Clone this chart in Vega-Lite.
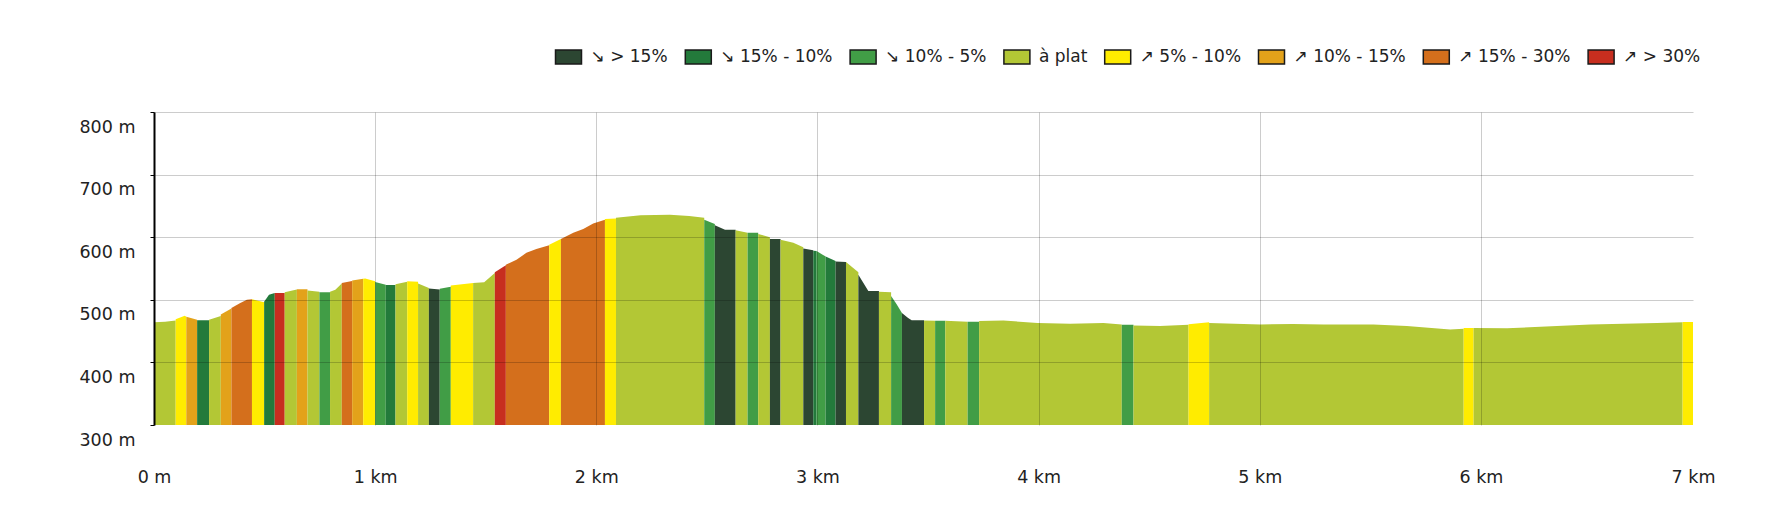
{
  "$schema": "https://vega.github.io/schema/vega-lite/v6.json",
  "width": 1539,
  "height": 313,
  "autosize": "none",
  "padding": {"left": 154, "top": 112, "right": 92, "bottom": 94},
  "background": "white",
  "config": {"view": {"stroke": null}, "font": "DejaVu Sans"},
  "data": {"values": [
    {"s":1,"d":0,"e":464,"c":"à plat"},{"s":1,"d":50,"e":465,"c":"à plat"},{"s":1,"d":98,"e":467,"c":"à plat"},
    {"s":2,"d":98,"e":469,"c":"↗ 5% - 10%"},{"s":2,"d":139,"e":474.5,"c":"↗ 5% - 10%"},{"s":2,"d":146,"e":473,"c":"↗ 5% - 10%"},
    {"s":3,"d":146,"e":473,"c":"↗ 10% - 15%"},{"s":3,"d":195,"e":468,"c":"↗ 10% - 15%"},
    {"s":4,"d":195,"e":467.5,"c":"↘ 15% - 10%"},{"s":4,"d":249,"e":467.5,"c":"↘ 15% - 10%"},
    {"s":5,"d":249,"e":468,"c":"à plat"},{"s":5,"d":302,"e":474,"c":"à plat"},
    {"s":6,"d":302,"e":476.5,"c":"↗ 10% - 15%"},{"s":6,"d":350,"e":486,"c":"↗ 10% - 15%"},
    {"s":7,"d":350,"e":487,"c":"↗ 15% - 30%"},{"s":7,"d":390,"e":495,"c":"↗ 15% - 30%"},{"s":7,"d":420,"e":500,"c":"↗ 15% - 30%"},{"s":7,"d":443,"e":501,"c":"↗ 15% - 30%"},
    {"s":8,"d":443,"e":501,"c":"↗ 5% - 10%"},{"s":8,"d":498,"e":496,"c":"↗ 5% - 10%"},
    {"s":9,"d":498,"e":497,"c":"↘ 15% - 10%"},{"s":9,"d":520,"e":508,"c":"↘ 15% - 10%"},{"s":9,"d":546,"e":511,"c":"↘ 15% - 10%"},
    {"s":10,"d":546,"e":511,"c":"↗ > 30%"},{"s":10,"d":591,"e":511,"c":"↗ > 30%"},
    {"s":11,"d":591,"e":512,"c":"à plat"},{"s":11,"d":646,"e":516.5,"c":"à plat"},
    {"s":12,"d":646,"e":517,"c":"↗ 10% - 15%"},{"s":12,"d":694,"e":517,"c":"↗ 10% - 15%"},
    {"s":13,"d":694,"e":515,"c":"à plat"},{"s":13,"d":748,"e":513,"c":"à plat"},
    {"s":14,"d":748,"e":512,"c":"↘ 10% - 5%"},{"s":14,"d":796,"e":512,"c":"↘ 10% - 5%"},
    {"s":15,"d":796,"e":513,"c":"à plat"},{"s":15,"d":820,"e":516,"c":"à plat"},{"s":15,"d":849,"e":526,"c":"à plat"},
    {"s":16,"d":849,"e":527,"c":"↗ 15% - 30%"},{"s":16,"d":896,"e":530,"c":"↗ 15% - 30%"},
    {"s":17,"d":896,"e":531,"c":"↗ 10% - 15%"},{"s":17,"d":946,"e":533.5,"c":"↗ 10% - 15%"},
    {"s":18,"d":946,"e":533.5,"c":"↗ 5% - 10%"},{"s":18,"d":955,"e":534,"c":"↗ 5% - 10%"},{"s":18,"d":1000,"e":529.5,"c":"↗ 5% - 10%"},
    {"s":19,"d":1000,"e":528.5,"c":"↘ 10% - 5%"},{"s":19,"d":1048,"e":524,"c":"↘ 10% - 5%"},
    {"s":20,"d":1048,"e":523.5,"c":"↘ 15% - 10%"},{"s":20,"d":1092,"e":523.5,"c":"↘ 15% - 10%"},
    {"s":21,"d":1092,"e":525,"c":"à plat"},{"s":21,"d":1145,"e":529,"c":"à plat"},
    {"s":22,"d":1145,"e":529.5,"c":"↗ 5% - 10%"},{"s":22,"d":1194,"e":529,"c":"↗ 5% - 10%"},
    {"s":23,"d":1194,"e":526,"c":"à plat"},{"s":23,"d":1243,"e":519,"c":"à plat"},
    {"s":24,"d":1243,"e":518,"c":"↘ > 15%"},{"s":24,"d":1292,"e":516.5,"c":"↘ > 15%"},
    {"s":25,"d":1292,"e":517.5,"c":"↘ 10% - 5%"},{"s":25,"d":1342,"e":521,"c":"↘ 10% - 5%"},
    {"s":26,"d":1342,"e":523,"c":"↗ 5% - 10%"},{"s":26,"d":1443,"e":527,"c":"↗ 5% - 10%"},
    {"s":27,"d":1443,"e":527,"c":"à plat"},{"s":27,"d":1493,"e":528,"c":"à plat"},{"s":27,"d":1541,"e":543,"c":"à plat"},
    {"s":28,"d":1541,"e":544,"c":"↗ > 30%"},{"s":28,"d":1591,"e":555,"c":"↗ > 30%"},
    {"s":29,"d":1591,"e":556,"c":"↗ 15% - 30%"},{"s":29,"d":1639,"e":564,"c":"↗ 15% - 30%"},{"s":29,"d":1684,"e":575,"c":"↗ 15% - 30%"},{"s":29,"d":1729,"e":581,"c":"↗ 15% - 30%"},{"s":29,"d":1787,"e":587,"c":"↗ 15% - 30%"},
    {"s":30,"d":1787,"e":588,"c":"↗ 5% - 10%"},{"s":30,"d":1840,"e":597,"c":"↗ 5% - 10%"},
    {"s":31,"d":1840,"e":597,"c":"↗ 15% - 30%"},{"s":31,"d":1896,"e":607,"c":"↗ 15% - 30%"},{"s":31,"d":1941,"e":613,"c":"↗ 15% - 30%"},{"s":31,"d":1986,"e":622,"c":"↗ 15% - 30%"},{"s":31,"d":2039,"e":628,"c":"↗ 15% - 30%"},
    {"s":32,"d":2039,"e":629,"c":"↗ 5% - 10%"},{"s":32,"d":2089,"e":630,"c":"↗ 5% - 10%"},
    {"s":33,"d":2089,"e":631,"c":"à plat"},{"s":33,"d":2200,"e":635,"c":"à plat"},{"s":33,"d":2333,"e":636,"c":"à plat"},{"s":33,"d":2420,"e":634,"c":"à plat"},{"s":33,"d":2488,"e":631,"c":"à plat"},
    {"s":34,"d":2488,"e":628,"c":"↘ 10% - 5%"},{"s":34,"d":2536,"e":621,"c":"↘ 10% - 5%"},
    {"s":35,"d":2536,"e":619,"c":"↘ > 15%"},{"s":35,"d":2582,"e":612,"c":"↘ > 15%"},{"s":35,"d":2630,"e":612,"c":"↘ > 15%"},
    {"s":36,"d":2630,"e":611,"c":"à plat"},{"s":36,"d":2684,"e":607,"c":"à plat"},
    {"s":37,"d":2684,"e":607,"c":"↘ 10% - 5%"},{"s":37,"d":2732,"e":607,"c":"↘ 10% - 5%"},
    {"s":38,"d":2732,"e":605,"c":"à plat"},{"s":38,"d":2785,"e":600,"c":"à plat"},
    {"s":39,"d":2785,"e":597,"c":"↘ > 15%"},{"s":39,"d":2833,"e":597,"c":"↘ > 15%"},
    {"s":40,"d":2833,"e":596,"c":"à plat"},{"s":40,"d":2891,"e":591,"c":"à plat"},{"s":40,"d":2936,"e":584,"c":"à plat"},
    {"s":41,"d":2936,"e":582,"c":"↘ > 15%"},{"s":41,"d":2981,"e":579,"c":"↘ > 15%"},
    {"s":42,"d":2981,"e":578.5,"c":"↘ 15% - 10%"},{"s":42,"d":2996,"e":578,"c":"↘ 15% - 10%"},
    {"s":43,"d":2996,"e":578,"c":"↘ 10% - 5%"},{"s":43,"d":3037,"e":569,"c":"↘ 10% - 5%"},
    {"s":44,"d":3037,"e":569,"c":"↘ 15% - 10%"},{"s":44,"d":3082,"e":562,"c":"↘ 15% - 10%"},
    {"s":45,"d":3082,"e":561,"c":"↘ > 15%"},{"s":45,"d":3129,"e":560.5,"c":"↘ > 15%"},
    {"s":46,"d":3129,"e":560.5,"c":"à plat"},{"s":46,"d":3185,"e":544,"c":"à plat"},
    {"s":47,"d":3185,"e":540,"c":"↘ > 15%"},{"s":47,"d":3230,"e":514,"c":"↘ > 15%"},{"s":47,"d":3278,"e":514,"c":"↘ > 15%"},
    {"s":48,"d":3278,"e":513,"c":"à plat"},{"s":48,"d":3333,"e":512,"c":"à plat"},
    {"s":49,"d":3333,"e":506,"c":"↘ 10% - 5%"},{"s":49,"d":3358,"e":493,"c":"↘ 10% - 5%"},{"s":49,"d":3382,"e":479,"c":"↘ 10% - 5%"},
    {"s":50,"d":3382,"e":479,"c":"↘ > 15%"},{"s":50,"d":3410,"e":471,"c":"↘ > 15%"},{"s":50,"d":3426,"e":467.5,"c":"↘ > 15%"},{"s":50,"d":3482,"e":467.5,"c":"↘ > 15%"},
    {"s":51,"d":3482,"e":467,"c":"à plat"},{"s":51,"d":3532,"e":466.5,"c":"à plat"},
    {"s":52,"d":3532,"e":466.5,"c":"↘ 10% - 5%"},{"s":52,"d":3578,"e":466.5,"c":"↘ 10% - 5%"},
    {"s":53,"d":3578,"e":466.5,"c":"à plat"},{"s":53,"d":3679,"e":465,"c":"à plat"},
    {"s":54,"d":3679,"e":465,"c":"↘ 10% - 5%"},{"s":54,"d":3731,"e":465,"c":"↘ 10% - 5%"},
    {"s":55,"d":3731,"e":466,"c":"à plat"},{"s":55,"d":3841,"e":467,"c":"à plat"},{"s":55,"d":3995,"e":463,"c":"à plat"},{"s":55,"d":4142,"e":461.7,"c":"à plat"},{"s":55,"d":4293,"e":463,"c":"à plat"},{"s":55,"d":4376,"e":460.6,"c":"à plat"},
    {"s":56,"d":4376,"e":460,"c":"↘ 10% - 5%"},{"s":56,"d":4429,"e":460,"c":"↘ 10% - 5%"},
    {"s":57,"d":4429,"e":459,"c":"à plat"},{"s":57,"d":4549,"e":458,"c":"à plat"},{"s":57,"d":4678,"e":460,"c":"à plat"},
    {"s":58,"d":4678,"e":461,"c":"↗ 5% - 10%"},{"s":58,"d":4771,"e":464,"c":"↗ 5% - 10%"},
    {"s":59,"d":4771,"e":463,"c":"à plat"},{"s":59,"d":5003,"e":460.7,"c":"à plat"},{"s":59,"d":5150,"e":461.5,"c":"à plat"},{"s":59,"d":5288,"e":460.7,"c":"à plat"},{"s":59,"d":5514,"e":460.7,"c":"à plat"},{"s":59,"d":5665,"e":458,"c":"à plat"},{"s":59,"d":5861,"e":452.7,"c":"à plat"},{"s":59,"d":5922,"e":453.7,"c":"à plat"},
    {"s":60,"d":5922,"e":455,"c":"↗ 5% - 10%"},{"s":60,"d":5967,"e":455,"c":"↗ 5% - 10%"},
    {"s":61,"d":5967,"e":455,"c":"à plat"},{"s":61,"d":6118,"e":454.5,"c":"à plat"},{"s":61,"d":6344,"e":458,"c":"à plat"},{"s":61,"d":6495,"e":460.7,"c":"à plat"},{"s":61,"d":6796,"e":463,"c":"à plat"},{"s":61,"d":6912,"e":464,"c":"à plat"},
    {"s":62,"d":6912,"e":464.5,"c":"↗ 5% - 10%"},{"s":62,"d":6959,"e":464.5,"c":"↗ 5% - 10%"}
  ]},
  "mark": {"type": "area", "interpolate": "linear"},
  "encoding": {
    "x": {
      "field": "d", "type": "quantitative",
      "scale": {"domain": [0, 6959], "nice": false, "zero": false},
      "axis": {
        "title": null,
        "values": [0, 1000, 2000, 3000, 4000, 5000, 6000, 6959],
        "labelExpr": "datum.value == 0 ? '0 m' : round(datum.value / 1000) + ' km'",
        "labelFlush": false, "labelOverlap": false,
        "domain": false, "ticks": false, "tickSize": 0,
        "labelPadding": 52, "labelBaseline": "middle",
        "labelFont": "DejaVu Sans", "labelFontSize": 17.5, "labelColor": "#222",
        "grid": true, "gridColor": "#000",
        "gridOpacity": {"condition": {"test": "datum.value > 6500", "value": 0}, "value": 0.2},
        "zindex": 1
      }
    },
    "y": {
      "field": "e", "type": "quantitative",
      "scale": {"domain": [300, 800], "nice": false, "zero": false},
      "axis": {
        "title": null,
        "values": [300, 400, 500, 600, 700, 800],
        "labelExpr": "datum.value + ' m'",
        "domain": true, "domainColor": "#000", "domainWidth": 2,
        "ticks": true, "tickColor": "#000", "tickSize": 4,
        "labelPadding": 15, "labelOffset": 15, "labelBaseline": "middle",
        "labelFont": "DejaVu Sans", "labelFontSize": 17.5, "labelColor": "#222",
        "grid": true, "gridColor": "#000",
        "gridOpacity": {"condition": {"test": "datum.value < 350", "value": 0}, "value": 0.2},
        "zindex": 1
      }
    },
    "y2": {"datum": 300},
    "detail": {"field": "s", "type": "nominal"},
    "color": {
      "field": "c", "type": "nominal",
      "scale": {
        "domain": ["↘ > 15%", "↘ 15% - 10%", "↘ 10% - 5%", "à plat", "↗ 5% - 10%", "↗ 10% - 15%", "↗ 15% - 30%", "↗ > 30%"],
        "range": ["#2c4632", "#237a3b", "#419d46", "#b3c735", "#ffec00", "#e3a21a", "#d46f1c", "#c72e1f"]
      },
      "legend": {
        "orient": "none", "legendX": 400.5, "legendY": -69.5,
        "direction": "horizontal", "title": null, "padding": 0,
        "columnPadding": 13.8, "labelOffset": 8,
        "labelFont": "DejaVu Sans", "labelFontSize": 17, "labelColor": "#222", "labelLimit": 300,
        "symbolType": "M-1,-0.54H1V0.54H-1Z", "symbolSize": 676,
        "symbolStrokeColor": "#1a1a1a", "symbolStrokeWidth": 1.5, "symbolOpacity": 1
      }
    }
  }
}
